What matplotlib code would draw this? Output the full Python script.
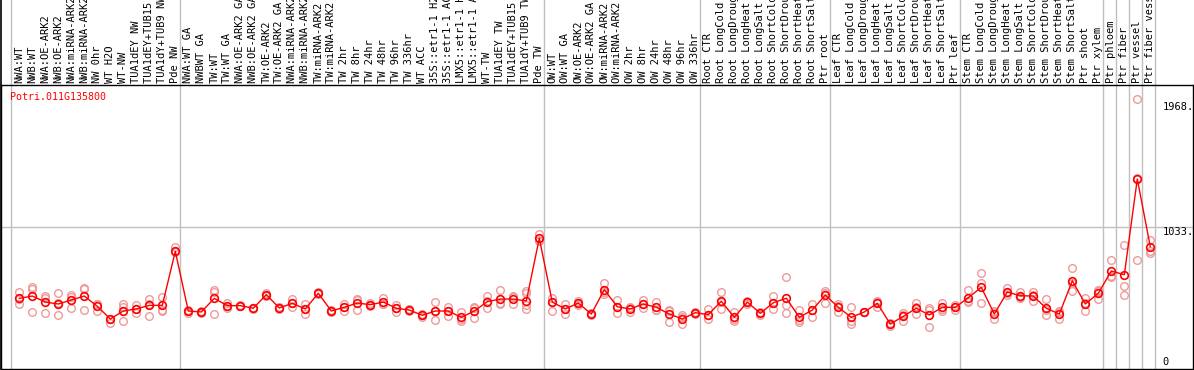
import matplotlib
matplotlib.use("Agg")
import matplotlib.pyplot as plt
import matplotlib.transforms as mtransforms

# %% data
gene = "Potri.011G135800"

samples = [
    "NWA:WT", "NWB:WT", "NWA:OE-ARK2", "NWB:OE-ARK2", "NWA:miRNA-ARK2", "NWB:miRNA-ARK2",
    "NW 0hr", "WT H2O", "WT-NW", "TUA1dEY NW", "TUA1dEY+TUB15 NW", "TUA1dY+TUB9 NW", "Pde NW",
    "NWA:WT GA", "NWBWT GA", "TW:WT", "TW:WT GA", "NWA:OE-ARK2 GA", "NWB:OE-ARK2 GA",
    "TW:OE-ARK2", "TW:OE-ARK2 GA", "NWA:miRNA-ARK2 GA", "NWB:miRNA-ARK2 GA", "TW:miRNA-ARK2",
    "TW:miRNA-ARK2 GA", "TW 2hr", "TW 8hr", "TW 24hr", "TW 48hr", "TW 96hr", "TW 336hr",
    "WT ACC", "35S::etr1-1 H2O", "35S::etr1-1 ACC", "LMX5::etr1-1 H2O", "LMX5::etr1-1 ACC",
    "WT-TW", "TUA1dEY TW", "TUA1dEY+TUB15 TW", "TUA1dY+TUB9 TW", "Pde TW",
    "OW:WT", "OW:WT GA", "OW:OE-ARK2", "OW:OE-ARK2 GA", "OW:miRNA-ARK2", "OW:miRNA-ARK2 GA",
    "OW 2hr", "OW 8hr", "OW 24hr", "OW 48hr", "OW 96hr", "OW 336hr",
    "Root CTR", "Root LongCold", "Root LongDrought", "Root LongHeat", "Root LongSalt",
    "Root ShortCold", "Root ShortDrought", "Root ShortHeat", "Root ShortSalt", "Ptr root",
    "Leaf CTR", "Leaf LongCold", "Leaf LongDrought", "Leaf LongHeat", "Leaf LongSalt",
    "Leaf ShortCold", "Leaf ShortDrought", "Leaf ShortHeat", "Leaf ShortSalt", "Ptr leaf",
    "Stem CTR", "Stem LongCold", "Stem LongDrought", "Stem LongHeat", "Stem LongSalt",
    "Stem ShortCold", "Stem ShortDrought", "Stem ShortHeat", "Stem ShortSalt", "Ptr shoot",
    "Ptr xylem", "Ptr phloem", "Ptr fiber", "Ptr vessel", "Ptr fiber vessel",
]

# number of samples in each block (separated by grey lines)
group_sizes = [13, 28, 12, 10, 10, 11, 1, 1, 1, 1]

means = [
    514, 531, 487, 473, 502, 531, 456, 364, 422, 437, 463, 463, 856,
    422, 415, 514, 461, 461, 442, 541, 444, 478, 437, 551, 422, 449, 480, 468,
    487, 442, 429, 391, 422, 422, 376, 422, 490, 509, 509, 495, 951,
    487, 437, 480, 400, 577, 453, 437, 473, 449, 400, 364, 410,
    395, 493, 376, 487, 405, 482, 515, 376, 429, 538,
    449, 376, 415, 478, 327, 383, 442, 393, 449, 449,
    519, 594, 400, 560, 533, 531, 442, 400, 642, 473, 551,
    713, 686, 1382, 890,
]

replicates = [
    [562, 473, 507], [594, 580, 417], [533, 519, 405], [551, 391, 477], [536, 524, 442],
    [589, 580, 429], [473, 424, 471], [333, 362, 366], [473, 453, 351], [463, 410, 437],
    [509, 388, 470], [526, 420, 429], [885, 862, 850],
    [429, 410, 422], [424, 415, 408], [575, 400, 560], [478, 446, 461], [461, 458, 464],
    [442, 440, 445], [555, 541, 530], [449, 444, 440], [507, 449, 478], [473, 400, 437],
    [560, 551, 545], [429, 415, 422], [473, 422, 449], [507, 429, 500], [478, 458, 468],
    [514, 473, 475], [463, 417, 445], [439, 429, 420], [400, 381, 391], [487, 357, 422],
    [453, 386, 425], [417, 362, 350], [453, 369, 444], [531, 442, 497], [575, 473, 480],
    [531, 473, 522], [568, 551, 466, 434], [982, 939, 932],
    [514, 422, 490], [473, 398, 440], [493, 480, 468], [410, 391, 400], [628, 546, 560],
    [502, 405, 453], [449, 417, 445], [502, 442, 475], [490, 429, 428], [429, 344, 425],
    [393, 325, 375], [417, 410, 403],
    [434, 362, 390], [560, 434, 485], [417, 362, 350], [497, 473, 490], [415, 405, 395],
    [531, 434, 482], [672, 466, 410], [429, 357, 345], [473, 381, 432], [570, 555, 482],
    [473, 417, 455], [449, 327, 352], [415, 412, 418], [490, 449, 495], [337, 315, 327],
    [405, 351, 390], [478, 400, 448], [442, 308, 430], [482, 424, 440], [429, 452, 466],
    [575, 490, 492], [696, 624, 478], [417, 362, 420], [589, 538, 552], [560, 526, 515],
    [560, 497, 535], [507, 391, 428], [422, 362, 415], [733, 570, 623], [514, 424, 480],
    [570, 509, 575],
    [793, 667, 680], [902, 604, 538], [1968, 791, 1387], [939, 861, 846],
]

ytick_vals = [1968, 1033, 0]
ytick_labels = ["1968.", "1033.", "0"]

# %% figure
W, H = 1194, 370
fig = plt.figure(figsize=(W / 100, H / 100), dpi=100)
ax_top_px = 85
ax_bot_px = 369
ax_h_px = ax_bot_px - ax_top_px
ax = fig.add_axes([1 / W, (H - ax_bot_px) / H, 1192 / W, ax_h_px / H])

step = 13.0
first_px = 19.3
ax.set_xlim((1 - first_px) / step, (1193 - first_px) / step)
ymax = max(max(r) for r in replicates) * 1.05
ax.set_ylim(0, ymax)
ax.set_xticks([])
ax.set_yticks([])
for s in ax.spines.values():
    s.set_color("black")
    s.set_linewidth(1)

mono = "DejaVu Sans Mono"
ext = 1 + ax_top_px / ax_h_px

# block separators, run up through the label area
bounds = [0]
for g in group_sizes:
    bounds.append(bounds[-1] + g)
for b in bounds:
    ax.axvline(b - 0.5 - 0.14, ymin=0, ymax=ext, color="#c0c0c0", lw=1,
               clip_on=False, zorder=1)
ax.axvline(ax.get_xlim()[0] + 0.02, ymin=0, ymax=ext, color="black", lw=1.2,
           clip_on=False, zorder=1)

# mid grid line
ax.axhline(ytick_vals[1], color="#c0c0c0", lw=1, zorder=1)

# replicates
for i, reps in enumerate(replicates):
    ax.plot([i] * len(reps), reps, "o", ms=5.5, mfc="none", mec="#ee9a9a",
            mew=1, zorder=2)

# mean line
xs = list(range(len(means)))
ax.plot(xs, means, "-", color="red", lw=1, zorder=3)
ax.plot(xs, means, "o", ms=5.5, mfc="none", mec="red", mew=1.2, zorder=4)

# sample labels
trans = mtransforms.blended_transform_factory(ax.transData, ax.transAxes)
for i, lab in enumerate(samples):
    ax.text(i, 1 + 2 / ax_h_px, lab, transform=trans, rotation=90, ha="center",
            va="bottom", fontsize=7.5, family=mono, clip_on=False)

# gene name
ax.text(9 / 1192, (ax_bot_px - 97) / ax_h_px, gene, transform=ax.transAxes,
        color="red", fontsize=7.2, family=mono, va="center", ha="left")

# value labels on the right
ytrans = mtransforms.blended_transform_factory(ax.transAxes, ax.transData)
offsets = [-8.5, -5, 7]
for v, lab, off in zip(ytick_vals, ytick_labels, offsets):
    ax.annotate(lab, xy=((1162.5 - 1) / 1192, v), xycoords=ytrans,
                xytext=(0, off), textcoords="offset pixels", fontsize=7.5,
                family=mono, ha="left", va="center")

fig.savefig("out.png", dpi=100)
